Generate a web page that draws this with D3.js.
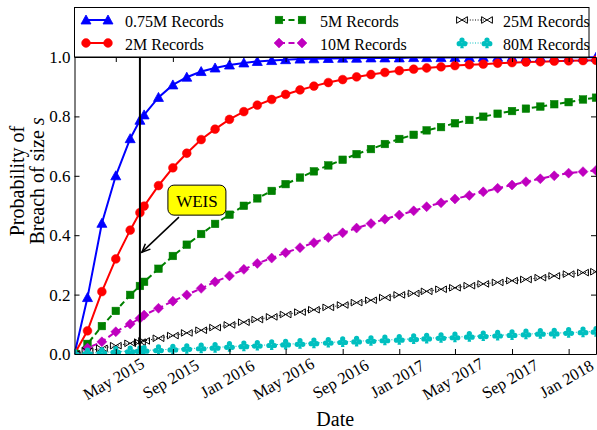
<!DOCTYPE html>
<html>
<head>
<meta charset="utf-8">
<script src="https://cdn.jsdelivr.net/npm/d3@7"></script>
<style>
  body { margin: 0; background: #fff; }
  svg { display: block; }
  text { font-family: "Liberation Serif", "Times New Roman", serif; fill: #000; }
</style>
</head>
<body>
<svg id="chart" width="597" height="430"></svg>
<script>
// Monthly evaluation dates
const monthDates = [
  "2015-02-01","2015-03-01","2015-04-01","2015-05-01","2015-06-01","2015-07-01","2015-08-01","2015-09-01","2015-10-01","2015-11-01","2015-12-01",
  "2016-01-01","2016-02-01","2016-03-01","2016-04-01","2016-05-01","2016-06-01","2016-07-01","2016-08-01","2016-09-01","2016-10-01","2016-11-01","2016-12-01",
  "2017-01-01","2017-02-01","2017-03-01","2017-04-01","2017-05-01","2017-06-01","2017-07-01","2017-08-01","2017-09-01","2017-10-01","2017-11-01","2017-12-01",
  "2018-01-01","2018-02-01","2018-03-01"
];
// Extra evaluation date (WEIS 2015)
const weisDate = "2015-06-22";

const tickDates = ["2015-05-01","2015-09-01","2016-01-01","2016-05-01","2016-09-01","2017-01-01","2017-05-01","2017-09-01","2018-01-01"];
const yTicks = [0, 0.2, 0.4, 0.6, 0.8, 1.0];

const seriesNames = ["0.75M Records","2M Records","5M Records","10M Records","25M Records","80M Records"];

const prob075M = [
  0, 0.19, 0.44, 0.60, 0.725, 0.805, 0.864, 0.906, 0.932, 0.951, 0.963,
  0.973, 0.980, 0.985, 0.988, 0.991, 0.993, 0.994, 0.995, 0.996, 0.996, 0.997, 0.997,
  0.997, 0.998, 0.998, 0.998, 0.998, 0.998, 0.999, 0.999, 0.999, 0.999, 0.999, 0.999,
  0.999, 0.999, 0.999
];
const prob2M = [
  0, 0.078, 0.21, 0.32, 0.417, 0.498, 0.567, 0.627, 0.676, 0.722, 0.757,
  0.790, 0.816, 0.838, 0.857, 0.874, 0.889, 0.902, 0.914, 0.924, 0.933, 0.941, 0.948,
  0.954, 0.959, 0.963, 0.967, 0.971, 0.974, 0.976, 0.979, 0.981, 0.983, 0.984, 0.986,
  0.987, 0.988, 0.989
];
const prob5M = [
  0, 0.034, 0.094, 0.145, 0.199, 0.243, 0.287, 0.330, 0.368, 0.404, 0.438,
  0.469, 0.499, 0.524, 0.549, 0.572, 0.594, 0.615, 0.635, 0.654, 0.673, 0.690, 0.707,
  0.724, 0.738, 0.753, 0.764, 0.777, 0.788, 0.799, 0.809, 0.818, 0.826, 0.833, 0.841,
  0.848, 0.857, 0.863
];
const prob10M = [
  0, 0.02, 0.041, 0.075, 0.101, 0.131, 0.154, 0.178, 0.199, 0.221, 0.243,
  0.263, 0.285, 0.305, 0.323, 0.341, 0.358, 0.375, 0.392, 0.408, 0.424, 0.439, 0.454,
  0.468, 0.482, 0.496, 0.509, 0.522, 0.534, 0.546, 0.558, 0.569, 0.580, 0.590, 0.600,
  0.609, 0.614, 0.618
];
const prob25M = [
  0, 0.010, 0.019, 0.028, 0.036, 0.044, 0.053, 0.062, 0.071, 0.080, 0.089,
  0.098, 0.107, 0.116, 0.125, 0.133, 0.141, 0.149, 0.157, 0.165, 0.173, 0.181, 0.190,
  0.199, 0.204, 0.211, 0.218, 0.223, 0.230, 0.236, 0.241, 0.247, 0.251, 0.257, 0.263,
  0.269, 0.274, 0.277
];
const prob80M = [
  0, 0.003, 0.005, 0.008, 0.010, 0.012, 0.014, 0.016, 0.018, 0.020, 0.022,
  0.025, 0.027, 0.029, 0.031, 0.033, 0.035, 0.037, 0.039, 0.041, 0.043, 0.045, 0.047,
  0.049, 0.051, 0.053, 0.055, 0.057, 0.059, 0.061, 0.063, 0.065, 0.067, 0.069, 0.070,
  0.072, 0.074, 0.076
];
// Probabilities at the WEIS date, same series order
const weisValues = [0.787, 0.476, 0.229, 0.120, 0.040, 0.011];

const parse = d3.timeParse("%Y-%m-%d");
const svg = d3.select("#chart");

const plot = { left: 74.5, right: 596, top: 57, bottom: 354 };

const x = d3.scaleTime()
  .domain([parse("2015-02-01"), parse("2018-03-01")])
  .range([plot.left, plot.right]);
const y = d3.scaleLinear().domain([0, 1]).range([plot.bottom, plot.top]);

// Marker shapes
const markerDraw = {
  triangle: (g, c) => g.append("path").attr("d", "M0,-5L5,4L-5,4Z").attr("fill", c).attr("stroke", c).attr("stroke-width", 0.8),
  circle: (g, c) => g.append("circle").attr("r", 4.4).attr("fill", c).attr("stroke", c).attr("stroke-width", 0.5),
  square: (g, c) => g.append("rect").attr("x", -3.8).attr("y", -3.8).attr("width", 7.6).attr("height", 7.6).attr("fill", c).attr("stroke", c).attr("stroke-width", 0.5),
  diamond: (g, c) => g.append("path").attr("d", "M0,-5L5,0L0,5L-5,0Z").attr("fill", c).attr("stroke", c).attr("stroke-width", 0.5),
  bowtie: (g, c) => g.append("path").attr("d", "M-5.4,-3.3L0,0L-5.4,3.3Z M5.4,-3.3L0,0L5.4,3.3Z").attr("fill", "none").attr("stroke", c).attr("stroke-width", 1),
  club: (g, c) => {
    const k = g.append("g").attr("fill", c);
    k.append("circle").attr("cx", 0).attr("cy", -2.9).attr("r", 2.6);
    k.append("circle").attr("cx", -2.8).attr("cy", 0.7).attr("r", 2.6);
    k.append("circle").attr("cx", 2.8).attr("cy", 0.7).attr("r", 2.6);
    k.append("path").attr("d", "M-0.8,0L0.8,0L1.8,5.2L-1.8,5.2Z");
  }
};

const seriesValues = [prob075M, prob2M, prob5M, prob10M, prob25M, prob80M];
const styles = [
  { color: "#0000ff", width: 2,   dash: null,    marker: "triangle" },
  { color: "#ff0000", width: 2,   dash: null,    marker: "circle" },
  { color: "#008000", width: 2,   dash: "6,3.5", marker: "square" },
  { color: "#bf00bf", width: 2,   dash: "6,3.5", marker: "diamond" },
  { color: "#000000", width: 1,   dash: "1,1.6", marker: "bowtie" },
  { color: "#00bfbf", width: 1,   dash: "1,1.6", marker: "club" }
];

const series = seriesValues.map((vals, i) => {
  const pts = monthDates.map((d, j) => ({ date: parse(d), v: vals[j] }));
  pts.push({ date: parse(weisDate), v: weisValues[i] });
  pts.sort((a, b) => a.date - b.date);
  return { name: seriesNames[i], pts, style: styles[i] };
});

svg.append("rect").attr("width", 597).attr("height", 430).attr("fill", "#fff");

svg.append("defs").append("clipPath").attr("id", "plotclip")
  .append("rect")
  .attr("x", plot.left).attr("y", plot.top - 6)
  .attr("width", plot.right - plot.left).attr("height", plot.bottom - plot.top + 6);

const dataLayer = svg.append("g").attr("clip-path", "url(#plotclip)");

const line = d3.line().x(d => x(d.date)).y(d => y(d.v));

// Lines first
series.forEach(s => {
  dataLayer.append("path")
    .datum(s.pts)
    .attr("d", line)
    .attr("fill", "none")
    .attr("stroke", s.style.color)
    .attr("stroke-width", s.style.width)
    .attr("stroke-dasharray", s.style.dash);
});

// Markers
series.forEach(s => {
  const g = dataLayer.append("g");
  s.pts.forEach(p => {
    const m = g.append("g").attr("transform", `translate(${x(p.date)},${y(p.v)})`);
    markerDraw[s.style.marker](m, s.style.color);
  });
});

// WEIS vertical line
svg.append("line")
  .attr("x1", x(parse(weisDate))).attr("x2", x(parse(weisDate)))
  .attr("y1", plot.top).attr("y2", plot.bottom)
  .attr("stroke", "#000").attr("stroke-width", 2);

// Axes
const tickParsed = tickDates.map(parse);
const fmt = d3.timeFormat("%b %Y");

const xAxis = svg.append("g")
  .attr("transform", `translate(0,${plot.bottom})`)
  .call(d3.axisBottom(x).tickValues(tickParsed).tickSizeInner(-5).tickSizeOuter(0).tickFormat(fmt));
xAxis.selectAll(".tick text")
  .attr("font-size", 16.5)
  .attr("text-anchor", "middle")
  .attr("dy", null)
  .attr("y", 0)
  .attr("dominant-baseline", "central")
  .attr("transform", "translate(-2.5,25) rotate(-30)");

svg.append("g")
  .attr("transform", `translate(0,${plot.top})`)
  .call(d3.axisTop(x).tickValues(tickParsed).tickSizeInner(-5).tickSizeOuter(0).tickFormat(""));

const yAxis = svg.append("g")
  .attr("transform", `translate(${plot.left},0)`)
  .call(d3.axisLeft(y).tickValues(yTicks).tickSizeInner(-5).tickSizeOuter(0).tickPadding(4).tickFormat(d3.format(".1f")));
yAxis.selectAll(".tick text").attr("font-size", 17);

svg.append("g")
  .attr("transform", `translate(${plot.right},0)`)
  .call(d3.axisRight(y).tickValues(yTicks).tickSizeInner(-5).tickSizeOuter(0).tickFormat(""));

svg.selectAll(".domain").attr("stroke", "#000").attr("stroke-width", 1);
svg.selectAll(".tick line").attr("stroke", "#000").attr("stroke-width", 1);
svg.selectAll(".tick text").style("font-family", "'Liberation Serif', serif").attr("fill", "#000");

// Axis titles
svg.append("text")
  .attr("x", (plot.left + plot.right) / 2).attr("y", 419)
  .attr("text-anchor", "middle").attr("dominant-baseline", "central")
  .attr("font-size", 20).text("Date");

const yl = svg.append("g").attr("transform", "translate(0,181) rotate(-90)");
yl.append("text").attr("x", 0).attr("y", 17)
  .attr("text-anchor", "middle").attr("dominant-baseline", "central")
  .attr("font-size", 20).text("Probability of");
const yl2 = yl.append("text").attr("x", 0).attr("y", 37)
  .attr("text-anchor", "middle").attr("dominant-baseline", "central")
  .attr("font-size", 20);
yl2.append("tspan").text("Breach of size ");
yl2.append("tspan").attr("font-style", "italic").text("s");

// WEIS annotation
const tipX = x(parse(weisDate)) + 2, tipY = y(0.343);
const boxCX = tipX + 55, boxCY = tipY - 52;
const arrowStartX = boxCX - 18, arrowStartY = boxCY + 17;
const ang = Math.atan2(tipY - arrowStartY, tipX - arrowStartX);
svg.append("line")
  .attr("x1", arrowStartX).attr("y1", arrowStartY)
  .attr("x2", tipX).attr("y2", tipY)
  .attr("stroke", "#000").attr("stroke-width", 1.5);
const hl = 9, ha = 0.42;
svg.append("path")
  .attr("d", `M${tipX - hl * Math.cos(ang - ha)},${tipY - hl * Math.sin(ang - ha)}L${tipX},${tipY}L${tipX - hl * Math.cos(ang + ha)},${tipY - hl * Math.sin(ang + ha)}`)
  .attr("fill", "none").attr("stroke", "#000").attr("stroke-width", 1.5);
svg.append("rect")
  .attr("x", boxCX - 29).attr("y", boxCY - 15).attr("width", 58).attr("height", 30)
  .attr("rx", 6).attr("ry", 6)
  .attr("fill", "#ffff00").attr("stroke", "#000").attr("stroke-width", 1);
svg.append("text")
  .attr("x", boxCX).attr("y", boxCY + 1)
  .attr("text-anchor", "middle").attr("dominant-baseline", "central")
  .attr("font-size", 17).text("WEIS");

// Legend
const legend = svg.append("g");
legend.append("rect")
  .attr("x", 74.5).attr("y", 7.5).attr("width", 514.5).attr("height", 49.5)
  .attr("fill", "#fff").attr("stroke", "#000").attr("stroke-width", 1);
const legendCols = [[86, 108, 125], [279, 302, 320], [462, 487, 503]];
const legendRows = [20, 43];
series.forEach((s, i) => {
  const col = legendCols[Math.floor(i / 2)];
  const ry = legendRows[i % 2];
  legend.append("line")
    .attr("x1", col[0]).attr("x2", col[1]).attr("y1", ry).attr("y2", ry)
    .attr("stroke", s.style.color).attr("stroke-width", s.style.width)
    .attr("stroke-dasharray", s.style.dash);
  [col[0], col[1]].forEach(mx => {
    const m = legend.append("g").attr("transform", `translate(${mx},${ry})`);
    markerDraw[s.style.marker](m, s.style.color);
  });
  legend.append("text")
    .attr("x", col[2]).attr("y", ry + 1)
    .attr("dominant-baseline", "central")
    .attr("font-size", 16).text(s.name);
});
</script>
</body>
</html>
